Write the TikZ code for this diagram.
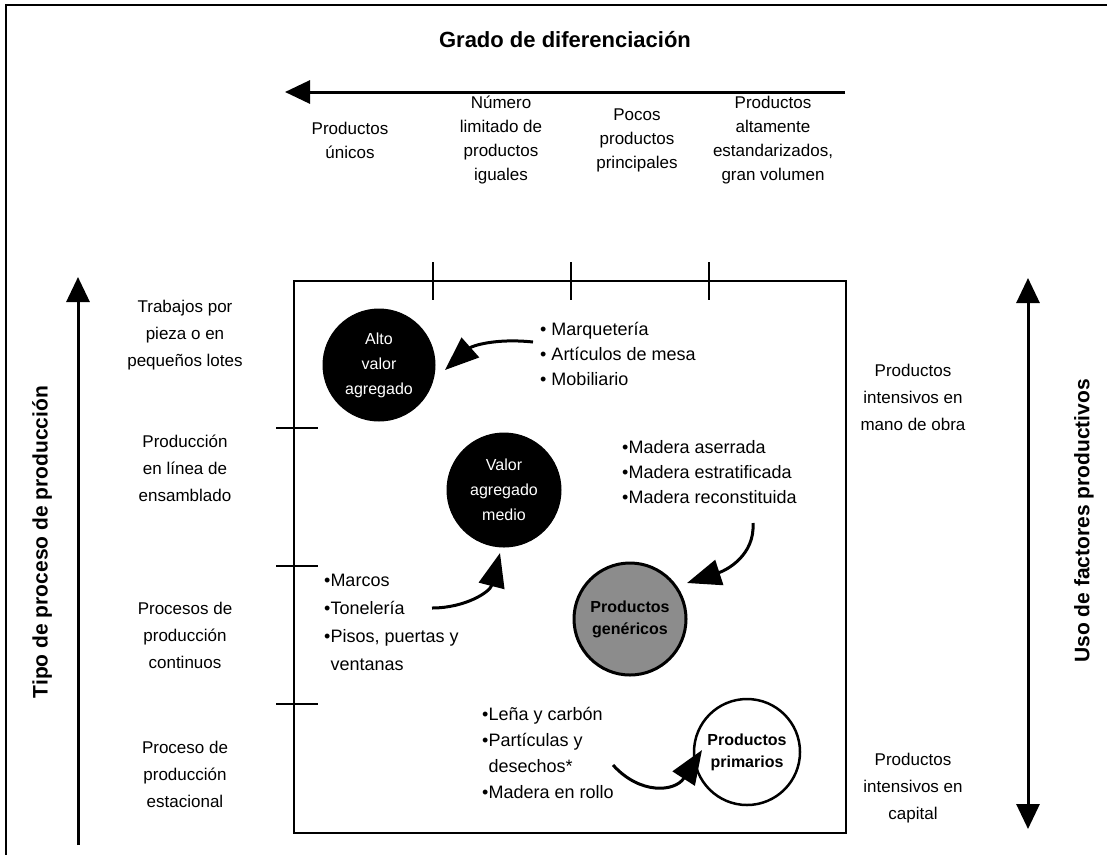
\documentclass[tikz,border=0pt]{standalone}
\usepackage{fontspec}
\setmainfont{Liberation Sans}
\usetikzlibrary{arrows.meta,calc}
\begin{document}
\begin{tikzpicture}[x=1pt,y=-1pt,
  lbl/.style={font=\fontsize{17}{24}\selectfont, align=center, inner sep=0pt},
  rowlbl/.style={font=\fontsize{17}{27}\selectfont, align=center, inner sep=0pt},
  lst/.style={font=\fontsize{18}{26}\selectfont, align=left, anchor=west, inner sep=0pt},
  axislbl/.style={font=\bfseries\fontsize{21}{25}\selectfont, inner sep=0pt},
  blackcirc/.style={circle, fill=black, draw=black, line width=1pt, inner sep=0pt,
     text=white, align=center, font=\fontsize{16}{25}\selectfont},
  whitecirc/.style={circle, fill=white, draw=black, line width=2.5pt, inner sep=0pt,
     align=center, font=\bfseries\fontsize{16}{22}\selectfont},
  graycirc/.style={circle, fill=black!45, draw=black, line width=3pt, inner sep=0pt,
     align=center, font=\bfseries\fontsize{16}{22}\selectfont},
  conn/.style={line width=3pt, -{Triangle[length=34pt,width=26pt]}},
  axisarrow/.style={line width=3pt, -{Triangle[length=25pt,width=23pt]}},
  tick/.style={line width=2.5pt},
  frame/.style={line width=2pt}]
\useasboundingbox (0,0) rectangle (1107,855);

% outer frame (top and left)
\coordinate (fTL) at (6,5);
\coordinate (fTR) at (1107,5);
\coordinate (fBL) at (6,855);
\draw[frame] (fTR) -- (fTL) -- (fBL);

% title and top arrow
\node[axislbl, font=\bfseries\fontsize{22}{26}\selectfont] (title) at (565,40) {Grado de diferenciación};
\coordinate (ta1) at (845,92);
\coordinate (ta2) at (285,92);
\draw[axisarrow] (ta1) -- (ta2);

% column headers
\node[lbl] (c1) at (350,140) {Productos\\únicos};
\node[lbl] (c2) at (501,140) {Número\\limitado de\\productos\\iguales};
\node[lbl] (c3) at (637,140) {Pocos\\productos\\principales};
\node[lbl] (c4) at (773,140) {Productos\\altamente\\estandarizados,\\gran volumen};

% inner box
\coordinate (bTL) at (294,281);
\coordinate (bBR) at (846,833);
\draw[line width=2.5pt] (bTL) rectangle (bBR);

% top ticks
\foreach \x [count=\i] in {433,571,709}{
  \coordinate (tt\i) at (\x,262);
  \coordinate (tb\i) at (\x,300);
  \draw[tick] (tt\i) -- (tb\i);
}
% left ticks
\foreach \y [count=\i] in {428,566,704}{
  \coordinate (tl\i) at (276,\y);
  \coordinate (tr\i) at (318,\y);
  \draw[tick] (tl\i) -- (tr\i);
}

% left axis
\coordinate (la1) at (78,845);
\coordinate (la2) at (78,277);
\draw[axisarrow] (la1) -- (la2);
\node[axislbl, rotate=90] (ylabel) at (42,542) {Tipo de proceso de producción};

% right axis
\coordinate (ra1) at (1028,278);
\coordinate (ra2) at (1028,829);
\draw[line width=3pt, {Triangle[length=25pt,width=23pt]}-{Triangle[length=25pt,width=23pt]}] (ra1) -- (ra2);
\node[axislbl, rotate=90] (rlabel) at (1084,521) {Uso de factores productivos};

% row labels
\node[rowlbl] (r1) at (185,335) {Trabajos por\\pieza o en\\pequeños lotes};
\node[rowlbl] (r2) at (185,468) {Producción\\en línea de\\ensamblado};
\node[rowlbl] (r3) at (185,635) {Procesos de\\producción\\continuos};
\node[rowlbl] (r4) at (185,774) {Proceso de\\producción\\estacional};

% right labels
\node[rowlbl] (q1) at (913,397) {Productos\\intensivos en\\mano de obra};
\node[rowlbl] (q2) at (913,788) {Productos\\intensivos en\\capital};

% circles
\node[blackcirc, minimum size=112pt] (alto) at (379,365) {Alto\\valor\\agregado};
\node[blackcirc, minimum size=114pt] (valor) at (504,490) {Valor\\agregado\\medio};
\node[graycirc, minimum size=112pt] (gen) at (630,619) {Productos\\genéricos};
\node[whitecirc, minimum size=106pt] (prim) at (747,752) {Productos\\primarios};

% lists
\node[lst, font=\fontsize{18}{25}\selectfont] (l1) at (540,354) {• Marquetería\\• Artículos de mesa\\• Mobiliario};
\node[lst, font=\fontsize{18}{25}\selectfont] (l2) at (622,472) {•Madera aserrada\\•Madera estratificada\\•Madera reconstituida};
\node[lst, font=\fontsize{18}{28}\selectfont] (l3) at (324,622) {•Marcos\\•Tonelería\\•Pisos, puertas y\\\phantom{•}ventanas};
\node[lst, font=\fontsize{18}{26}\selectfont] (l4) at (482,753) {•Leña y carbón\\•Partículas y\\\phantom{•}desechos*\\•Madera en rollo};

% curved arrows
\coordinate (s1) at (533,342);
\draw[conn] (s1) .. controls (495,338) and (472,346) .. ($(alto.center)+(66,5)$);
\coordinate (s2) at (432,608);
\draw[conn] (s2) .. controls (465,608) and (490,592) .. ($(valor.center)+(-4,63)$);
\coordinate (s3) at (753,523);
\draw[conn] (s3) .. controls (755,555) and (727,570) .. ($(gen.center)+(57,-36)$);
\coordinate (s4) at (613,765);
\draw[conn] (s4) .. controls (640,795) and (675,792) .. ($(prim.center)+(-45,-2)$);
\end{tikzpicture}
\end{document}
